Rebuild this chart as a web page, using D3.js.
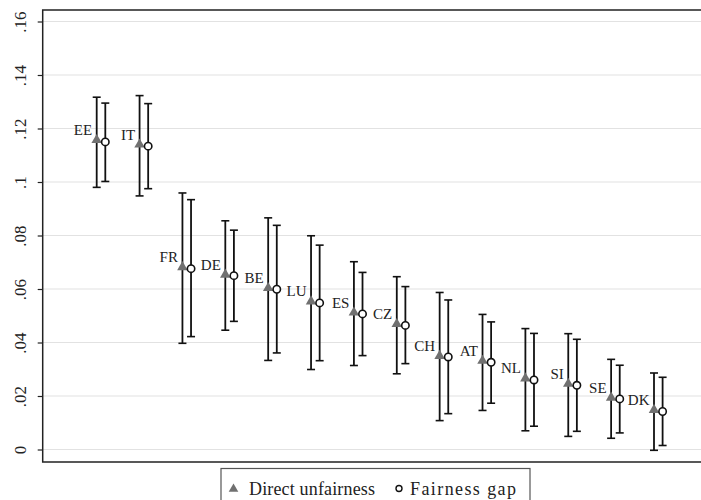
<!DOCTYPE html>
<html>
<head>
<meta charset="utf-8">
<script src="https://cdn.jsdelivr.net/npm/d3@7"></script>
<style>
body{margin:0;background:#fff;}
svg{display:block;font-family:"Liberation Serif","Times New Roman",serif;}
</style>
</head>
<body>
<svg id="chart" width="701" height="500"></svg>
<script>
// countries, left to right
var countries = ["EE","IT","FR","DE","BE","LU","ES","CZ","CH","AT","NL","SI","SE","DK"];
// direct unfairness (triangles) with 95% CI
var direct   = [.1155,.1138,.0680,.0652,.0602,.0552,.0510,.0467,.0348,.0330,.0264,.0244,.0192,.0146];
var directLo = [.0980,.0948,.0397,.0446,.0333,.0299,.0314,.0283,.0108,.0146,.0070,.0049,.0042,-.0003];
var directHi = [.1317,.1323,.0959,.0855,.0866,.0799,.0702,.0646,.0587,.0505,.0452,.0433,.0337,.0286];
// fairness gap (hollow circles) with 95% CI
var gap   = [.1150,.1134,.0676,.0650,.0599,.0548,.0507,.0464,.0346,.0326,.0260,.0240,.0189,.0142];
var gapLo = [.1002,.0975,.0422,.0479,.0361,.0332,.0351,.0321,.0134,.0173,.0087,.0068,.0062,.0015];
var gapHi = [.1295,.1293,.0934,.0820,.0838,.0764,.0662,.0609,.0559,.0477,.0434,.0412,.0315,.0270];
var yTicks = [0,.02,.04,.06,.08,.1,.12,.14,.16];
var legendLabels = ["Direct unfairness","Fairness gap"];

var svg = d3.select("#chart");
var frame = {left: 42.7, top: 10, bottom: 462};
var serif = "Liberation Serif, Times New Roman, serif";

var y = d3.scaleLinear().domain([0, .16]).range([449.5, 21.5]);
var x = d3.scaleLinear().domain([1, 14]).range([96.7, 654]);
var off = 8.6; // circle sits to the right of triangle

// gridlines
svg.append("g").selectAll("line").data(yTicks).enter().append("line")
  .attr("x1", frame.left).attr("x2", 701)
  .attr("y1", function(d){ return y(d); }).attr("y2", function(d){ return y(d); })
  .attr("stroke", "#e2e2e2").attr("stroke-width", 1.2);

// y axis
var fmt = function(d){ return d === 0 ? "0" : String(+d.toFixed(2)).replace(/^0/, ""); };
var yAxis = svg.append("g")
  .attr("transform", "translate(" + frame.left + ",0)")
  .call(d3.axisLeft(y).tickValues(yTicks).tickSize(5).tickFormat(fmt));
yAxis.attr("font-family", serif);
yAxis.select(".domain").remove();
yAxis.selectAll(".tick line").attr("stroke", "#222").attr("stroke-width", 1.2);
yAxis.selectAll(".tick text")
  .attr("font-size", 17).attr("fill", "#222")
  .attr("x", null).attr("dy", null)
  .attr("text-anchor", "middle")
  .attr("transform", "translate(-17,0) rotate(-90)");

// frame (right side runs off the picture)
svg.append("path")
  .attr("d", "M703," + frame.top + "H" + frame.left + "V" + frame.bottom + "H703")
  .attr("fill", "none").attr("stroke", "#222").attr("stroke-width", 1.5);

var idx = d3.range(countries.length);

function capBars(g, xs, lo, hi){
  g.selectAll("line.v").data(idx).enter().append("line")
    .attr("x1", xs).attr("x2", xs)
    .attr("y1", function(i){ return y(lo[i]); })
    .attr("y2", function(i){ return y(hi[i]); })
    .attr("stroke", "#111").attr("stroke-width", 1.8);
  [lo, hi].forEach(function(arr){
    g.selectAll(null).data(idx).enter().append("line")
      .attr("x1", function(i){ return xs(i) - 4; })
      .attr("x2", function(i){ return xs(i) + 4; })
      .attr("y1", function(i){ return y(arr[i]); })
      .attr("y2", function(i){ return y(arr[i]); })
      .attr("stroke", "#111").attr("stroke-width", 1.6);
  });
}

var xd = function(i){ return x(i + 1); };
var xg = function(i){ return x(i + 1) + off; };

capBars(svg.append("g"), xd, directLo, directHi);
capBars(svg.append("g"), xg, gapLo, gapHi);

// triangles
var tri = d3.symbol().type(d3.symbolTriangle).size(48);
svg.append("g").selectAll("path").data(idx).enter().append("path")
  .attr("d", tri)
  .attr("transform", function(i){ return "translate(" + xd(i) + "," + (y(direct[i]) - 0.5) + ")"; })
  .attr("fill", "#707070");

// hollow circles
svg.append("g").selectAll("circle").data(idx).enter().append("circle")
  .attr("cx", xg).attr("cy", function(i){ return y(gap[i]); })
  .attr("r", 3.7)
  .attr("fill", "#fff").attr("stroke", "#111").attr("stroke-width", 1.6);

// country labels
svg.append("g").selectAll("text").data(idx).enter().append("text")
  .attr("x", function(i){ return xd(i) - 4.5; })
  .attr("y", function(i){ return y(direct[i]) - 5.5; })
  .attr("text-anchor", "end")
  .attr("font-size", 15).attr("fill", "#222")
  .text(function(i){ return countries[i]; });

// legend
var lg = svg.append("g");
lg.append("rect").attr("x", 221).attr("y", 468.5).attr("width", 309).attr("height", 40)
  .attr("fill", "#fff").attr("stroke", "#555").attr("stroke-width", 1.2);
lg.append("path").attr("d", d3.symbol().type(d3.symbolTriangle).size(40))
  .attr("transform", "translate(233.5,489)").attr("fill", "#707070");
lg.append("text").attr("x", 249).attr("y", 494.5).attr("font-size", 18).attr("fill", "#222")
  .attr("textLength", 126).attr("lengthAdjust", "spacing")
  .text(legendLabels[0]);
lg.append("circle").attr("cx", 399).attr("cy", 488.5).attr("r", 3)
  .attr("fill", "#fff").attr("stroke", "#111").attr("stroke-width", 1.4);
lg.append("text").attr("x", 410).attr("y", 494.5).attr("font-size", 18).attr("fill", "#222")
  .attr("textLength", 106).attr("lengthAdjust", "spacing")
  .text(legendLabels[1]);
</script>
</body>
</html>
